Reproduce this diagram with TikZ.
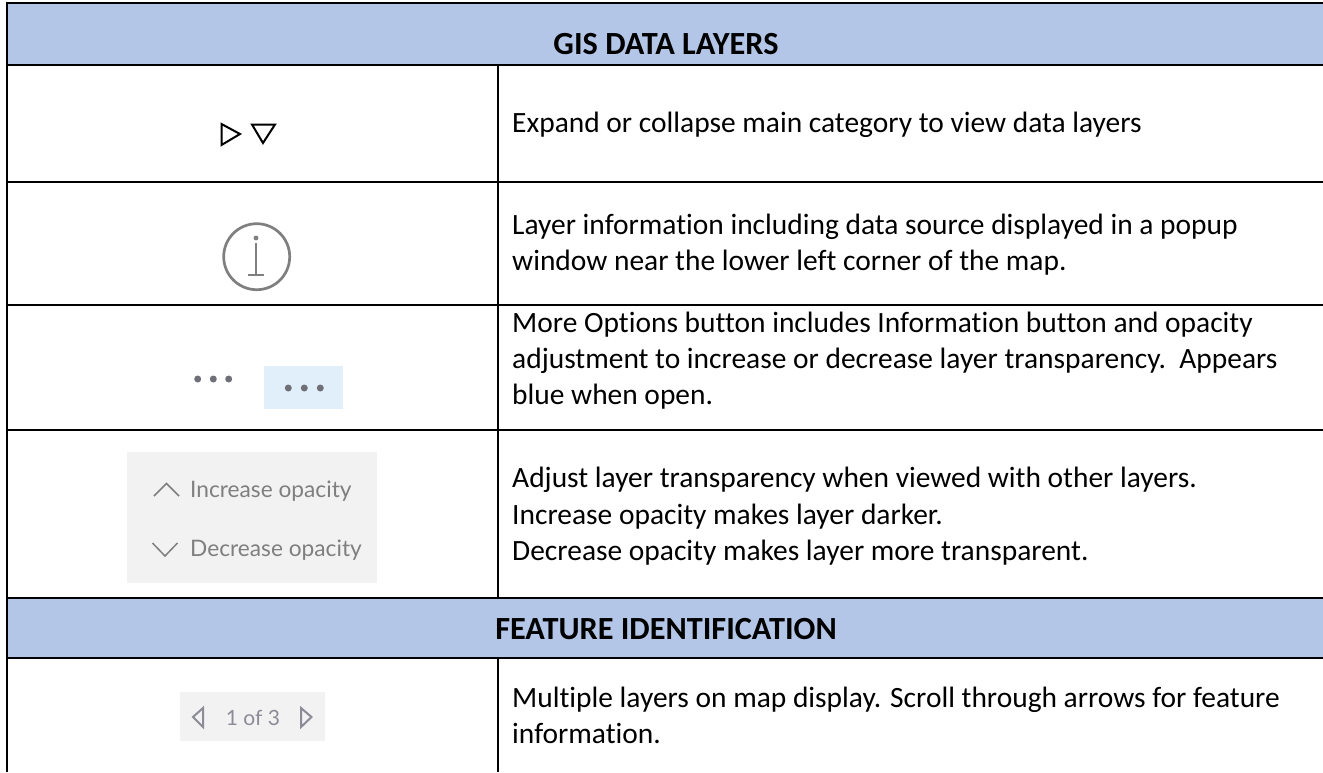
\documentclass[tikz,border=0pt]{standalone}
\usepackage{fontspec}
\setmainfont[Ligatures=NoCommon]{Carlito}
\newfontfamily\uifont{Lato}
\definecolor{hdr}{HTML}{B4C6E7}
\definecolor{uigray}{HTML}{F2F2F2}
\definecolor{uiblue}{HTML}{E1EFFA}
\definecolor{uitext}{HTML}{7F7F7F}
\definecolor{pagerc}{HTML}{8C8C98}
\definecolor{dotc}{HTML}{6F6F78}
\tikzset{
  x=1pt,y=-1pt,
  rule/.style={draw=black,line width=2pt},
  body/.style={anchor=base west,inner sep=0pt,font=\fontsize{29.45}{33}\selectfont},
  head/.style={anchor=base,inner sep=0pt,font=\fontsize{32.3}{36}\selectfont\bfseries},
  ui/.style={anchor=base west,inner sep=0pt,text=uitext,font=\fontsize{22.7}{26}\uifont\selectfont},
  uismall/.style={anchor=base,inner sep=0pt,text=pagerc,font=\fontsize{21}{24}\uifont\selectfont},
  chev/.style={draw=uitext,line width=1.5pt},
  tri/.style={draw=black,line width=2pt,line join=miter},
  pagertri/.style={draw=pagerc,line width=2pt},
  dot/.style={circle,fill=dotc,minimum size=7pt,inner sep=0pt}
}
\begin{document}
\begin{tikzpicture}
\useasboundingbox (0,0) rectangle (1323,772);
\fill[white] (0,0) rectangle (1323,772);
% header bands
\fill[hdr] (7,3) rectangle (1323,65);
\fill[hdr] (7,598) rectangle (1323,658);
% rules
\draw[rule] (7,772) -- (7,3) -- (1323,3);
\draw[rule] (7,65) -- (1323,65);
\draw[rule] (7,182) -- (1323,182);
\draw[rule] (7,304.7) -- (1323,304.7);
\draw[rule] (7,429.7) -- (1323,429.7);
\draw[rule] (7,598) -- (1323,598);
\draw[rule] (7,658) -- (1323,658);
\draw[rule] (498,65) -- (498,598);
\draw[rule] (498,658) -- (498,772);
% headers
\node[head] (h1) at (666,54.3) {GIS DATA LAYERS};
\node[head] (h2) at (666,639) {FEATURE IDENTIFICATION};
% row 1
\draw[tri] (221.5,124) -- (240,134) -- (221.5,145) -- cycle;
\draw[tri] (252,124.5) -- (275,124.5) -- (263,143) -- cycle;
\node[body] (t1) at (512,132.7) {Expand or collapse main category to view data layers};
% row 2
\draw[draw=uitext,line width=2.7pt] (256.7,256.7) circle (33);
\draw[draw=uitext,line width=2.5pt] (256,243) -- (256,275);
\draw[draw=uitext,line width=2.6pt] (248,275) -- (264,275);
\fill[uitext] (256,238) circle (2.4);
\node[body] (t2a) at (512,234.7) {Layer information including data source displayed in a popup};
\node[body] (t2b) at (512,270.5) {window near the lower left corner of the map.};
% row 3
\fill[uiblue] (263.7,366) rectangle (343,409);
\node[dot] (d1) at (197.7,379) {};
\node[dot] (d2) at (213.3,379) {};
\node[dot] (d3) at (228.7,379) {};
\node[dot] (d4) at (288.3,388) {};
\node[dot] (d5) at (304.3,388) {};
\node[dot] (d6) at (320.3,388) {};
\node[body] (t3a) at (512,332.7) {More Options button includes Information button and opacity};
\node[body] (t3b) at (512,368.5) {adjustment to increase or decrease layer transparency.\ \ Appears};
\node[body] (t3c) at (512,404.3) {blue when open.};
% row 4
\fill[uigray] (127,452) rectangle (377,583);
\draw[chev] (154,496) -- (166.5,483.5) -- (179,496);
\draw[chev] (152.5,543) -- (165,556) -- (177.5,543);
\node[ui] (o1) at (190,497) {Increase opacity};
\node[ui] (o2) at (190,556) {Decrease opacity};
\node[body] (t4a) at (512,487.7) {Adjust layer transparency when viewed with other layers.};
\node[body] (t4b) at (512,524) {Increase opacity makes layer darker.};
\node[body] (t4c) at (512,560) {Decrease opacity makes layer more transparent.};
% row 5
\fill[uigray] (180,692) rectangle (325,741);
\draw[pagertri] (203,708) -- (193,717) -- (203,727) -- cycle;
\draw[pagertri] (301,708) -- (311.5,717) -- (301,727) -- cycle;
\node[uismall] (pg) at (253,725) {1 of 3};
\node[body] (t5a) at (512,707.7) {Multiple layers on map display. Scroll through arrows for feature};
\node[body] (t5b) at (512,743.3) {information.};
\end{tikzpicture}
\end{document}
